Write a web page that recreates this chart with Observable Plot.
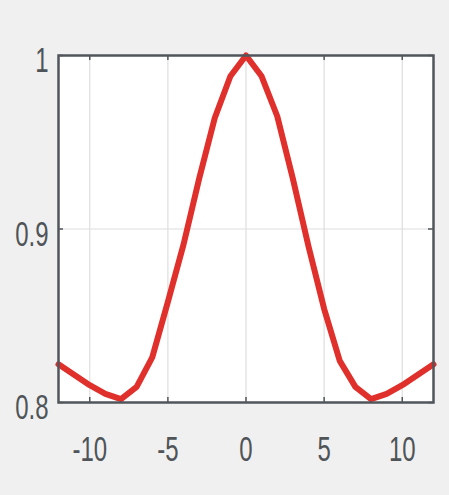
<!DOCTYPE html>
<html><head><meta charset="utf-8">
<script src="https://cdn.jsdelivr.net/npm/d3@7"></script>
<script src="https://cdn.jsdelivr.net/npm/@observablehq/plot@0.6"></script>
<style>
html,body{margin:0;padding:0;background:#f0f0f0;}
</style></head><body><div id="chart"></div>
<script>
const xValues = [-12,-11,-10,-9,-8,-7,-6,-5,-4,-3,-2,-1,0,1,2,3,4,5,6,7,8,9,10,11,12];
const yValues = [0.822,0.816,0.810,0.805,0.802,0.809,0.826,0.858,0.891,0.929,0.964,0.988,1.0,0.988,0.965,0.929,0.890,0.854,0.824,0.809,0.802,0.805,0.810,0.816,0.822];
const xTicks = [-10,-5,0,5,10];
const xTickLabels = ["-10","-5","0","5","10"];
const yTicks = [0.8,0.9,1];
const yTickLabels = ["0.8","0.9","1"];

const data = xValues.map((x,i)=>({x, y:yValues[i]}));
const W = 449, H = 495, mL = 58, mR = 16, mT = 55, mB = 93;
const pw = W - mL - mR, ph = H - mT - mB;
const frameColor = "#50565c";
const textColor = "#4f5458";

const chart = Plot.plot({
  width: W, height: H,
  marginLeft: mL, marginRight: mR, marginTop: mT, marginBottom: mB,
  style: {background:"#f0f0f0", fontFamily:"'Liberation Sans', Arial, sans-serif"},
  x: {domain:[-12,12], label:null},
  y: {domain:[0.8,1], label:null},
  marks: [
    Plot.frame({fill:"white", stroke:null}),
    Plot.gridX(xTicks, {stroke:"#dedede", strokeOpacity:1, strokeWidth:1.2}),
    Plot.gridY(yTicks, {stroke:"#dedede", strokeOpacity:1, strokeWidth:1.2}),
    Plot.tickX(xTicks, {x:d=>d, insetTop: ph-5, stroke:frameColor, strokeWidth:1.5}),
    Plot.tickX(xTicks, {x:d=>d, insetBottom: ph-5, stroke:frameColor, strokeWidth:1.5}),
    Plot.tickY(yTicks, {y:d=>d, insetRight: pw-5, stroke:frameColor, strokeWidth:1.5}),
    Plot.tickY(yTicks, {y:d=>d, insetLeft: pw-5, stroke:frameColor, strokeWidth:1.5}),
    Plot.line(data, {x:"x", y:"y", stroke:"#e0302c", strokeWidth:6, strokeLinejoin:"round", strokeLinecap:"round"}),
    Plot.frame({stroke:frameColor, strokeWidth:2.5}),
    Plot.axisX(xTicks, {label:null, tickSize:0, tickPadding:33, fontSize:24, fill:textColor, tickFormat:(d,i)=>xTickLabels[i]}),
    Plot.axisY(yTicks, {label:null, tickSize:0, tickPadding:10, fontSize:24, fill:textColor, dy:5, tickFormat:(d,i)=>yTickLabels[i]})
  ]
});
document.getElementById("chart").appendChild(chart);
chart.querySelectorAll('g[aria-label="x-axis tick label"] text, g[aria-label="y-axis tick label"] text').forEach(t => {
  const tr = t.getAttribute("transform") || "";
  t.setAttribute("transform", tr + " scale(1,1.5)");
});
</script></body></html>
